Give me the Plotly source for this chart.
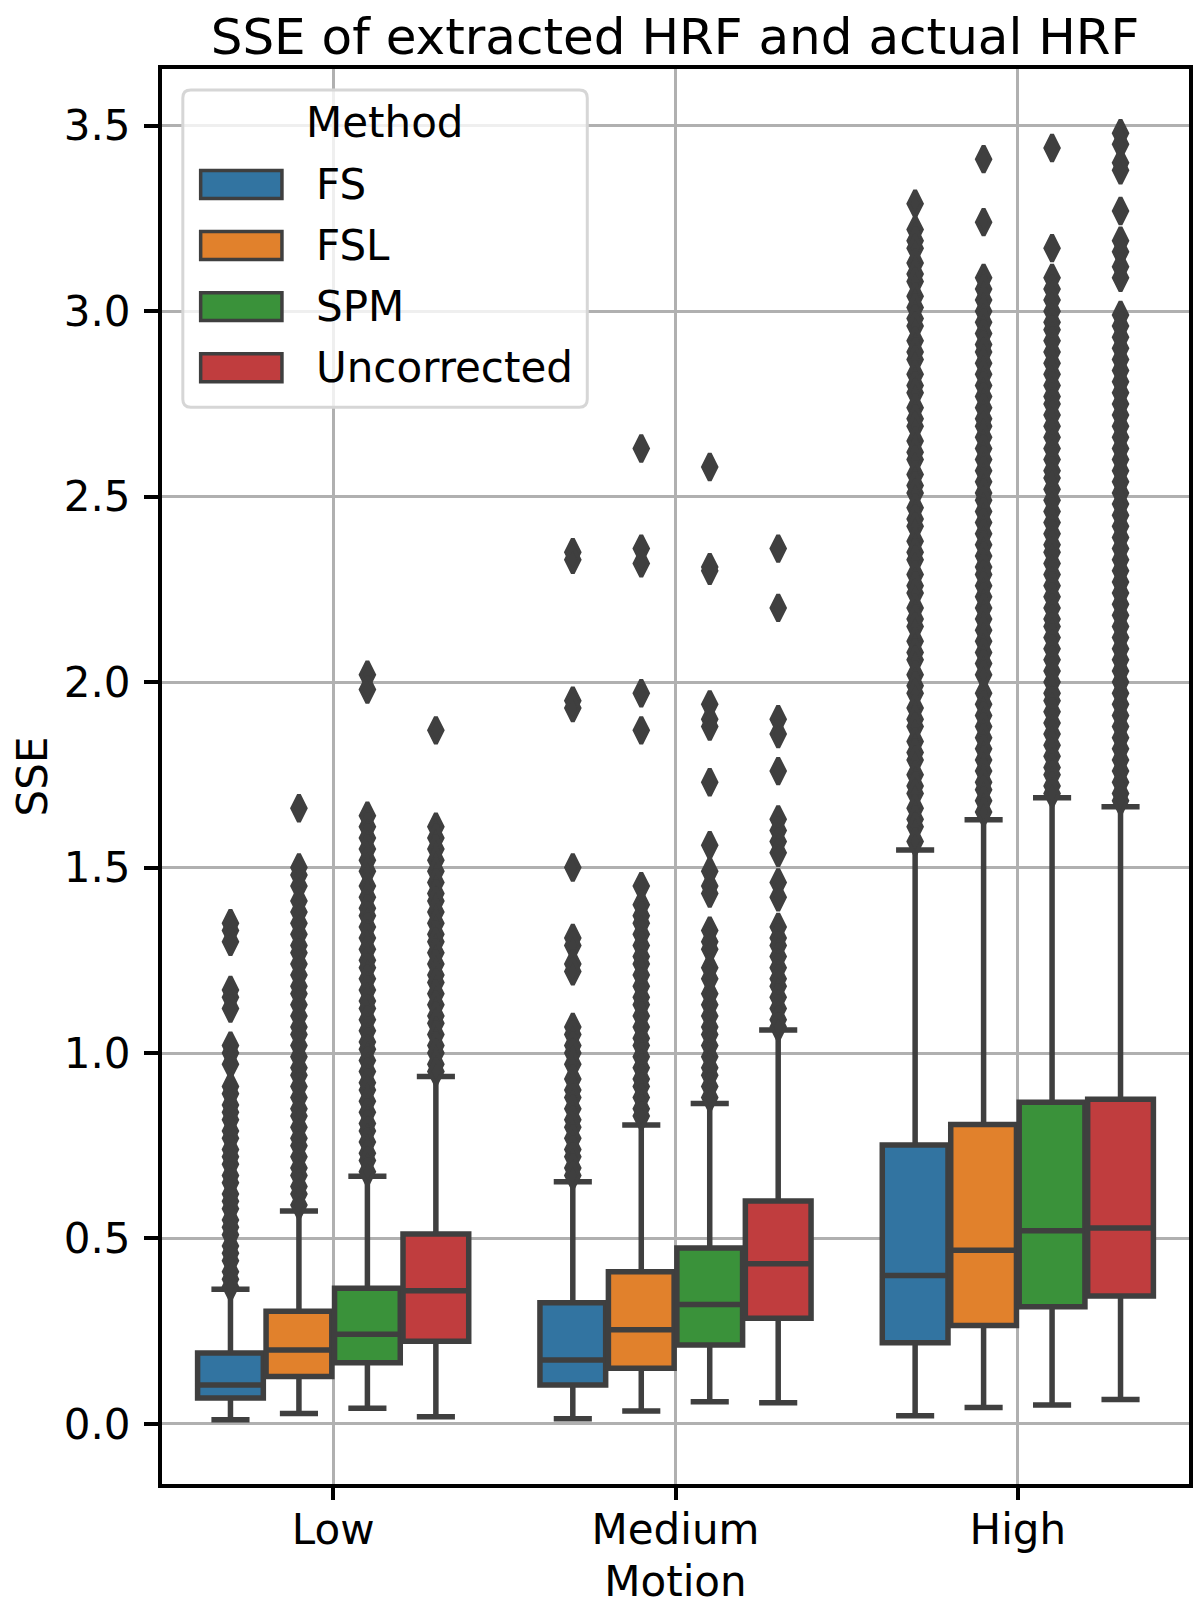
import plotly.graph_objects as go

motions = ['Low', 'Medium', 'High']
methods = ['FS', 'FSL', 'SPM', 'Uncorrected']
colors = ['#3274a1', '#e1812c', '#3a923a', '#c03d3e']

# box statistics per method, ordered Low, Medium, High
q1 = {
    'FS': [0.070, 0.105, 0.219],
    'FSL': [0.128, 0.150, 0.265],
    'SPM': [0.165, 0.213, 0.316],
    'Uncorrected': [0.223, 0.285, 0.345],
}
median = {
    'FS': [0.105, 0.172, 0.400],
    'FSL': [0.199, 0.254, 0.468],
    'SPM': [0.242, 0.322, 0.521],
    'Uncorrected': [0.359, 0.432, 0.528],
}
q3 = {
    'FS': [0.191, 0.327, 0.752],
    'FSL': [0.304, 0.410, 0.807],
    'SPM': [0.366, 0.474, 0.867],
    'Uncorrected': [0.512, 0.601, 0.875],
}
lower = {
    'FS': [0.011, 0.014, 0.022],
    'FSL': [0.028, 0.035, 0.044],
    'SPM': [0.042, 0.060, 0.051],
    'Uncorrected': [0.019, 0.057, 0.066],
}
upper = {
    'FS': [0.363, 0.653, 1.547],
    'FSL': [0.574, 0.806, 1.629],
    'SPM': [0.668, 0.864, 1.688],
    'Uncorrected': [0.937, 1.062, 1.664],
}

# outliers
fs_low_out = [1.35, 1.33, 1.30, 1.17, 1.15, 1.12, 1.02, 1.00, 0.97, 0.91, 0.89, 0.86, 0.84,
              0.82, 0.79, 0.77, 0.74, 0.72, 0.70, 0.67, 0.65, 0.62, 0.60, 0.58, 0.55, 0.53,
              0.51, 0.48, 0.46, 0.44, 0.41, 0.39, 0.37]
fsl_low_out = [1.66, 1.50, 1.48, 1.45, 1.41, 1.38, 1.35, 1.32, 1.29, 1.27, 1.24, 1.21, 1.18,
               1.16, 1.13, 1.10, 1.07, 1.05, 1.02, 0.99, 0.96, 0.94, 0.91, 0.88, 0.85, 0.83,
               0.80, 0.77, 0.75, 0.72, 0.69, 0.67, 0.64, 0.62, 0.59]
spm_low_out = [2.02, 1.98, 1.64, 1.61, 1.58, 1.55, 1.52, 1.49, 1.45, 1.42, 1.39, 1.37, 1.34,
               1.31, 1.28, 1.25, 1.23, 1.20, 1.17, 1.14, 1.12, 1.09, 1.06, 1.03, 1.01, 0.98,
               0.95, 0.92, 0.90, 0.87, 0.84, 0.81, 0.79, 0.76, 0.73, 0.71, 0.68]
unc_low_out = [1.87, 1.61, 1.58, 1.55, 1.52, 1.49, 1.46, 1.43, 1.41, 1.38, 1.35, 1.32, 1.30,
               1.27, 1.24, 1.21, 1.19, 1.16, 1.13, 1.10, 1.08, 1.05, 1.02, 1.00, 0.97, 0.95]

fs_med_out = [2.35, 2.33, 1.95, 1.93, 1.50, 1.31, 1.29, 1.24, 1.22, 1.07, 1.05, 1.02, 1.00,
              0.97, 0.93, 0.90, 0.88, 0.85, 0.82, 0.80, 0.77, 0.74, 0.72, 0.69, 0.67]
fsl_med_out = [2.63, 2.36, 2.32, 1.97, 1.87, 1.45, 1.40, 1.37, 1.35, 1.32, 1.29, 1.26, 1.24,
               1.21, 1.18, 1.15, 1.13, 1.10, 1.07, 1.04, 1.02, 0.99, 0.96, 0.93, 0.91, 0.88,
               0.85, 0.83]
spm_med_out = [2.58, 2.31, 2.30, 1.94, 1.90, 1.88, 1.73, 1.56, 1.49, 1.45, 1.43, 1.33, 1.30,
               1.28, 1.23, 1.20, 1.16, 1.13, 1.10, 1.07, 1.05, 1.02, 0.99, 0.96, 0.94, 0.91,
               0.88]
unc_med_out = [2.36, 2.20, 1.90, 1.86, 1.76, 1.63, 1.60, 1.57, 1.54, 1.46, 1.42, 1.34, 1.31,
               1.29, 1.26, 1.23, 1.20, 1.18, 1.15, 1.12, 1.09, 1.07]

fs_high_out = [3.29, 3.22, 3.19, 3.17, 3.13, 3.10, 3.08, 3.04, 3.01, 2.98, 2.96, 2.92, 2.89,
               2.87, 2.83, 2.80, 2.78, 2.74, 2.71, 2.69, 2.65, 2.62, 2.60, 2.56, 2.53, 2.51,
               2.47, 2.44, 2.42, 2.38, 2.35, 2.33, 2.29, 2.26, 2.24, 2.20, 2.17, 2.15, 2.11,
               2.08, 2.06, 2.02, 1.99, 1.97, 1.93, 1.90, 1.88, 1.84, 1.81, 1.79, 1.75, 1.72,
               1.70, 1.66, 1.63, 1.61, 1.57]
fsl_high_out = [3.41, 3.24, 3.09, 3.06, 3.03, 3.00, 2.97, 2.94, 2.91, 2.89, 2.86, 2.83, 2.80,
                2.77, 2.74, 2.71, 2.69, 2.66, 2.63, 2.60, 2.57, 2.54, 2.51, 2.49, 2.46, 2.43,
                2.40, 2.37, 2.34, 2.31, 2.29, 2.26, 2.23, 2.20, 2.17, 2.14, 2.11, 2.08, 2.05,
                2.02, 1.97, 1.94, 1.91, 1.88, 1.85, 1.82, 1.79, 1.76, 1.73, 1.71, 1.68, 1.65]
spm_high_out = [3.44, 3.17, 3.09, 3.06, 3.03, 3.00, 2.97, 2.95, 2.92, 2.89, 2.86, 2.83, 2.80,
                2.77, 2.75, 2.72, 2.69, 2.66, 2.63, 2.60, 2.57, 2.55, 2.52, 2.49, 2.46, 2.43,
                2.40, 2.37, 2.35, 2.32, 2.29, 2.26, 2.23, 2.20, 2.17, 2.15, 2.12, 2.09, 2.06,
                2.03, 2.00, 1.97, 1.95, 1.92, 1.89, 1.86, 1.83, 1.80, 1.77, 1.75, 1.72, 1.70]
unc_high_out = [3.48, 3.45, 3.40, 3.38, 3.27, 3.19, 3.16, 3.12, 3.09, 2.99, 2.96, 2.93, 2.90,
                2.87, 2.84, 2.81, 2.78, 2.75, 2.72, 2.69, 2.66, 2.63, 2.60, 2.57, 2.54, 2.51,
                2.48, 2.45, 2.42, 2.39, 2.36, 2.33, 2.30, 2.27, 2.24, 2.21, 2.18, 2.15, 2.12,
                2.09, 2.06, 2.03, 2.00, 1.97, 1.94, 1.91, 1.88, 1.85, 1.82, 1.79, 1.76, 1.73,
                1.70, 1.68]

outliers = {
    'FS': [fs_low_out, fs_med_out, fs_high_out],
    'FSL': [fsl_low_out, fsl_med_out, fsl_high_out],
    'SPM': [spm_low_out, spm_med_out, spm_high_out],
    'Uncorrected': [unc_low_out, unc_med_out, unc_high_out],
}

edge = '#3f3f3f'
font = 'DejaVu Sans'
fsize = 42
hue_width = 0.8 / len(methods)

# keep the page inside the 1203x1614 window (body has an 8px margin)
OFF = 8
W, H = 1203 - 2 * OFF, 1614 - 2 * OFF

# plot area edges in target-picture pixels
L, R, T, B = 157, 1193, 69, 1487
def px_x(p):
    return (p - L) / (R - L)
def px_y(p):
    return 1 - (p - T) / (B - T)

fig = go.Figure()
for k, m in enumerate(methods):
    offset = -0.4 + hue_width * (k + 0.5)
    pos = [i + offset for i in range(len(motions))]
    fig.add_trace(go.Box(
        x=pos, q1=q1[m], median=median[m], q3=q3[m],
        lowerfence=lower[m], upperfence=upper[m],
        width=hue_width * 0.96, whiskerwidth=0.58,
        fillcolor=colors[k], line=dict(color=edge, width=5.5),
        boxpoints=False, name=m, showlegend=False,
    ))
    xs, ys = [], []
    for i, vals in enumerate(outliers[m]):
        xs += [pos[i]] * len(vals)
        ys += vals
    fig.add_trace(go.Scatter(
        x=xs, y=ys, mode='markers', showlegend=False,
        marker=dict(symbol='diamond-tall', size=19, color=edge,
                    line=dict(color=edge, width=4)),
    ))

# legend drawn by hand to look like the matplotlib one (rounded frame)
x0, x1, y0, y1 = px_x(178), px_x(586), px_y(408), px_y(90)
rx, ry = 8 / (R - L), 8 / (B - T)
frame = (f'M {x0 + rx},{y1} L {x1 - rx},{y1} Q {x1},{y1} {x1},{y1 - ry} '
         f'L {x1},{y0 + ry} Q {x1},{y0} {x1 - rx},{y0} L {x0 + rx},{y0} '
         f'Q {x0},{y0} {x0},{y0 + ry} L {x0},{y1 - ry} Q {x0},{y1} {x0 + rx},{y1} Z')
fig.add_shape(type='path', path=frame, xref='paper', yref='paper',
              fillcolor='rgba(255,255,255,0.8)', line=dict(color='#d6d6d6', width=3),
              layer='above')
fig.add_annotation(text='Method', xref='paper', yref='paper', x=px_x(382), y=px_y(123),
                   xanchor='center', yanchor='middle', showarrow=False,
                   font=dict(family=font, size=fsize, color='black'))
for k, m in enumerate(methods):
    cy = 184.7 + k * 61.2
    fig.add_shape(type='rect', xref='paper', yref='paper',
                  x0=px_x(196), x1=px_x(278), y0=px_y(cy + 14), y1=px_y(cy - 14),
                  fillcolor=colors[k], line=dict(color=edge, width=3.5), layer='above')
    fig.add_annotation(text=m, xref='paper', yref='paper', x=px_x(310), y=px_y(cy),
                       xanchor='left', yanchor='middle', showarrow=False,
                       font=dict(family=font, size=fsize, color='black'))

fig.update_layout(
    width=W, height=H,
    margin=dict(l=L - OFF, r=W - (R - OFF), t=T - OFF, b=H - (B - OFF)),
    paper_bgcolor='white', plot_bgcolor='white',
    font=dict(family=font, size=fsize, color='black'),
    title=dict(text='SSE of extracted HRF and actual HRF', x=(675 - OFF) / W, xanchor='center',
               y=1 - (36 - OFF) / H, yanchor='middle', yref='container',
               font=dict(family=font, size=50, color='black')),
    boxmode='overlay', showlegend=False,
)
fig.update_xaxes(
    range=[-0.5, 2.5], tickvals=list(range(len(motions))), ticktext=motions,
    title=dict(text='Motion', standoff=20, font=dict(size=fsize)),
    showgrid=True, gridcolor='#b0b0b0', gridwidth=3, zeroline=False,
    showline=True, linecolor='black', linewidth=4, mirror=True,
    ticks='outside', ticklen=12, tickwidth=4, tickcolor='black',
    ticklabelstandoff=-6, tickfont=dict(size=fsize),
)
fig.update_yaxes(
    range=[-0.162, 3.653], tickvals=[0, 0.5, 1, 1.5, 2, 2.5, 3, 3.5], tickformat='.1f',
    title=dict(text='SSE', standoff=24, font=dict(size=fsize)),
    showgrid=True, gridcolor='#b0b0b0', gridwidth=3, zeroline=False,
    showline=True, linecolor='black', linewidth=4, mirror=True,
    ticks='outside', ticklen=14, tickwidth=4, tickcolor='black',
    ticklabelstandoff=5, tickfont=dict(size=fsize),
)

fig.write_html('out.html')
